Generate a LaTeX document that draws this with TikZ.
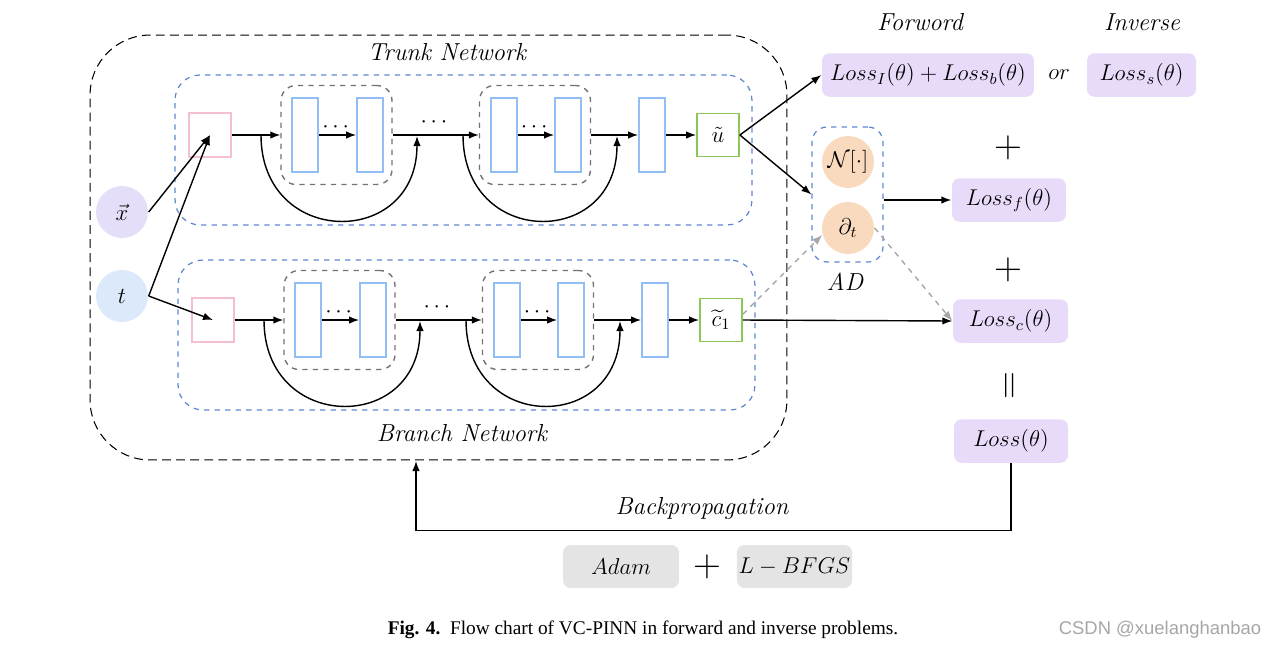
\RequirePackage{fix-cm}
\documentclass[tikz,border=0pt]{standalone}
\usepackage{amsmath,amssymb}
\usepackage{fontspec}
\usepackage{xcolor}
\usepackage{tikz}
\usetikzlibrary{arrows.meta}
\newfontfamily\capfont{Liberation Serif}
\newfontfamily\markfont{Liberation Sans}
\definecolor{netblue}{RGB}{95,135,210}
\definecolor{layerblue}{RGB}{145,190,245}
\definecolor{inpink}{RGB}{245,192,205}
\definecolor{outgreen}{RGB}{140,200,85}
\definecolor{groupgray}{RGB}{115,115,115}
\definecolor{xfill}{RGB}{228,222,248}
\definecolor{tfill}{RGB}{220,233,251}
\definecolor{lossfill}{RGB}{232,219,250}
\definecolor{opfill}{RGB}{249,218,190}
\definecolor{optfill}{RGB}{228,228,228}

\begin{document}
\begin{tikzpicture}[x=0.02cm,y=-0.02cm,line width=0.8pt,
  font=\fontsize{13}{15}\selectfont,
  >={Latex[length=2mm,width=1.5mm]},
  netbox/.style={draw=netblue,dashed,line width=0.7pt,rounded corners=0.5cm,
    minimum width=11.54cm,minimum height=3cm},
  inbox/.style={draw=inpink,line width=0.8pt,minimum width=0.84cm,minimum height=0.88cm},
  hlayer/.style={draw=layerblue,line width=1pt,inner sep=0pt,
    minimum width=0.52cm,minimum height=1.48cm},
  resgroup/.style={draw=groupgray,dashed,line width=0.8pt,rounded corners=0.3cm,
    minimum width=2.22cm,minimum height=1.98cm},
  outbox/.style={draw=outgreen,line width=1pt,inner sep=0pt,
    minimum width=0.84cm,minimum height=0.86cm},
  lossbox/.style={fill=lossfill,rounded corners=0.15cm,inner xsep=1pt,minimum height=0.87cm},
  optbox/.style={fill=optfill,rounded corners=0.15cm,inner xsep=1pt,minimum height=0.86cm,
    minimum width=2.32cm},
  opnode/.style={circle,fill=opfill,minimum size=1.04cm,inner sep=0pt},
  itlabel/.style={font=\itshape\fontsize{14}{16}\selectfont},
  bigsign/.style={font=\fontsize{22}{24}\selectfont},
  skip/.style={->,line width=0.8pt},
  aux/.style={->,draw=gray!70,dashed,line width=0.8pt}]
\useasboundingbox (0,0) rectangle (1274,650);

% outer frame
\node[draw,dashed,dash pattern=on 5pt off 3pt,line width=0.6pt,rounded corners=1.2cm,
  minimum width=13.94cm,minimum height=8.5cm] (outer) at (438.5,247.5) {};
\node[itlabel] (trlab) at (447,52) {Trunk Network};
\node[itlabel] (brlab) at (462,433) {Branch Network};

% trunk and branch networks
\foreach \nn/\dx/\dy/\lab in {tr/0/0/{\tilde{u}},br/3/185/{\widetilde{c}_{1}}}{
\begin{scope}[shift={(\dx,\dy)}]
\node[netbox] (\nn-box) at (463.5,150) {};
\node[inbox] (\nn-in) at (210,135) {};
\node[resgroup] (\nn-g1) at (336.5,135) {};
\node[hlayer] (\nn-a1) at (305,135) {};
\node[hlayer] (\nn-b1) at (370,135) {};
\node[resgroup] (\nn-g2) at (535,135) {};
\node[hlayer] (\nn-a2) at (504,135) {};
\node[hlayer] (\nn-b2) at (568,135) {};
\node[hlayer] (\nn-l3) at (652,135) {};
\node[outbox] (\nn-out) at (718,135) {$\lab$};
\coordinate (\nn-s1) at (261,135);
\coordinate (\nn-e1) at (417,136);
\coordinate (\nn-s2) at (463,135);
\coordinate (\nn-e2) at (617,136);
\draw[->] (\nn-in) -- (\nn-g1);
\draw[->] (\nn-a1) -- node[above,inner sep=1pt] (\nn-d1) {$\cdots$} (\nn-b1);
\draw[->] (\nn-g1) -- node[above,inner sep=4pt] (\nn-d0) {$\cdots$} (\nn-g2);
\draw[->] (\nn-a2) -- node[above,inner sep=1pt] (\nn-d2) {$\cdots$} (\nn-b2);
\draw[->] (\nn-g2) -- (\nn-l3);
\draw[->] (\nn-l3) -- (\nn-out);
\draw[skip] (\nn-s1) .. controls +(0,113) and +(0,113) .. (\nn-e1);
\draw[skip] (\nn-s2) .. controls +(0,113) and +(0,113) .. (\nn-e2);
\end{scope}
}

% inputs
\node[circle,fill=xfill,minimum size=1.04cm,inner sep=0pt] (x) at (122,212) {$\vec{x}$};
\node[circle,fill=tfill,minimum size=1.04cm,inner sep=0pt] (t) at (122,296) {$t$};
\draw[->] (x.east) -- (tr-in.center);
\draw[->] (t.east) -- (tr-in.center);
\draw[->] (t.east) -- (br-in.center);

% automatic differentiation
\node[draw=netblue,dashed,line width=0.7pt,rounded corners=0.3cm,
  minimum width=1.42cm,minimum height=2.7cm] (ad) at (847.5,194.5) {};
\node[opnode] (op) at (848,162) {$\mathcal{N}[\cdot]$};
\node[opnode] (dt) at (848,228) {$\partial_t$};
\node[itlabel] (adlab) at (845,282) {AD};

% losses
\node[itlabel] (fwd) at (920,22) {Forword};
\node[itlabel] (inv) at (1142,22) {Inverse};
\node[lossbox,minimum width=4.24cm] (lossib) at (928,75) {$Loss_I(\theta)+Loss_b(\theta)$};
\node (or) at (1059,75) {$or$};
\node[lossbox,minimum width=2.18cm] (losss) at (1141.5,75) {$Loss_s(\theta)$};
\node[bigsign] (p1) at (1008,148) {$+$};
\node[lossbox,minimum width=2.28cm] (lossf) at (1009,200) {$Loss_f(\theta)$};
\node[bigsign] (p2) at (1008,270) {$+$};
\node[lossbox,minimum width=2.3cm] (lossc) at (1010.5,321) {$Loss_c(\theta)$};
\node[bigsign,rotate=90] (eq) at (1012,386) {$=$};
\node[lossbox,minimum width=2.28cm] (loss) at (1011,441) {$Loss(\theta)$};

\draw[->] (tr-out.east) -- (lossib.west);
\draw[->] (tr-out.east) -- (ad.west);
\draw[->] (ad.east |- lossf.west) -- (lossf.west);
\draw[->] (br-out.east) -- (lossc.west);
\draw[aux] (br-out.15) -- (dt.195);
\draw[aux] (dt.east) -- (lossc.west);

% backpropagation
\coordinate (bp) at (416,461);
\draw[->] (loss.south) -- ++(0,67) -| (bp);
\node[itlabel] (bplab) at (702,508) {Backpropagation};
\node[optbox] (adam) at (621,566.5) {$Adam$};
\node[bigsign] (p3) at (707,567) {$+$};
\node[optbox,minimum width=2.3cm] (lbfgs) at (794.5,566.5) {$L-BFGS$};

% caption
\node[font=\capfont\fontsize{11}{13}\selectfont] (cap) at (643,630)
  {\textbf{Fig. 4.}\enspace Flow chart of VC-PINN in forward and inverse problems.};
\node[text=gray!70,font=\markfont\fontsize{10.5}{12}\selectfont] (mark) at (1160,630) {CSDN @xuelanghanbao};
\end{tikzpicture}
\end{document}
